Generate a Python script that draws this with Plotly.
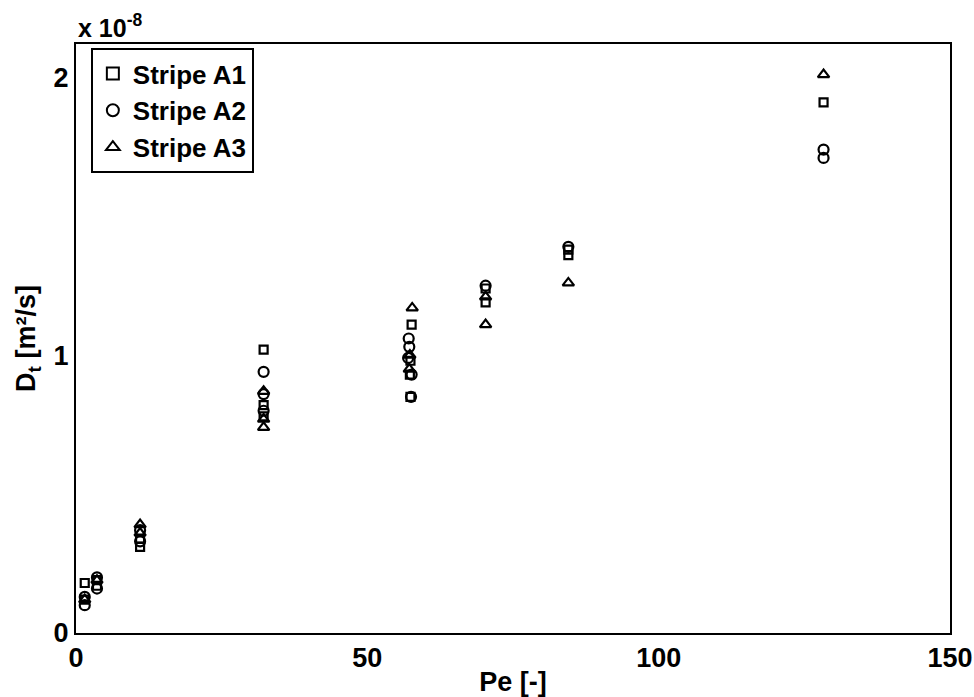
import plotly.graph_objects as go

# Values in units of 1e-8 m^2/s
a1_pe = [1.5, 1.5, 3.6, 3.6, 11.0, 11.0, 32.2, 32.2, 32.2, 57.6, 57.4, 57.3, 57.4, 70.3, 70.3, 84.5, 84.5, 128.3]
a1_dt = [0.18, 0.12, 0.17, 0.19, 0.31, 0.34, 1.02, 0.82, 0.78, 1.11, 0.98, 0.93, 0.85, 1.19, 1.24, 1.36, 1.38, 1.91]

a2_pe = [1.5, 1.5, 3.6, 3.6, 11.0, 11.0, 32.2, 32.2, 32.2, 57.1, 57.2, 57.0, 57.6, 57.5, 70.3, 84.5, 128.3, 128.3]
a2_dt = [0.10, 0.13, 0.16, 0.20, 0.33, 0.37, 0.94, 0.86, 0.80, 1.06, 1.03, 0.99, 0.93, 0.85, 1.25, 1.39, 1.74, 1.71]

a3_pe = [1.5, 3.6, 11.0, 11.0, 32.2, 32.2, 32.2, 57.7, 57.3, 57.2, 70.3, 70.3, 84.5, 128.3]
a3_dt = [0.12, 0.19, 0.39, 0.36, 0.87, 0.77, 0.74, 1.17, 1.00, 0.95, 1.21, 1.11, 1.26, 2.01]

names = ["Stripe A1", "Stripe A2", "Stripe A3"]
symbols = ["square-open", "circle-open", "triangle-up-open"]
sizes = [8, 10, 10]

font_family = "Liberation Sans, Arial, sans-serif"

fig = go.Figure()
for name, xs, ys, sym, sz in zip(names, [a1_pe, a2_pe, a3_pe], [a1_dt, a2_dt, a3_dt], symbols, sizes):
    fig.add_trace(go.Scatter(
        x=xs, y=ys, mode="markers", name=name,
        marker=dict(symbol=sym, size=sz, color="black", line=dict(color="black", width=2.2)),
    ))

axis_common = dict(
    showline=True, linecolor="black", linewidth=2, mirror=True,
    showgrid=False, zeroline=False, ticks="", automargin=False,
    tickfont=dict(family=font_family, size=27, color="black", weight="bold"),
)

fig.update_layout(
    width=974, height=697,
    margin=dict(l=76, r=24, t=44, b=64),
    paper_bgcolor="white", plot_bgcolor="white",
    font=dict(family=font_family, color="black"),
    xaxis=dict(range=[0, 150], tickvals=[0, 50, 100, 150],
               title=dict(text="Pe [-]", font=dict(family=font_family, size=27, weight="bold"), standoff=2),
               **axis_common),
    yaxis=dict(range=[0, 2.12], tickvals=[0, 1, 2],
               title=dict(text="D<sub>t</sub> [m²/s]", font=dict(family=font_family, size=27, weight="bold"), standoff=10),
               **axis_common),
    legend=dict(x=0.017, y=0.993, xanchor="left", yanchor="top",
                bgcolor="white", bordercolor="black", borderwidth=2,
                font=dict(family=font_family, size=26, color="black", weight="bold"),
                itemsizing="constant", itemwidth=30),
    annotations=[dict(text="x 10<sup>-8</sup>", xref="paper", yref="paper", x=0.0, y=1.0,
                      xanchor="left", yanchor="bottom", showarrow=False,
                      font=dict(family=font_family, size=25, color="black", weight="bold"))],
)

fig.write_html("out.html")
